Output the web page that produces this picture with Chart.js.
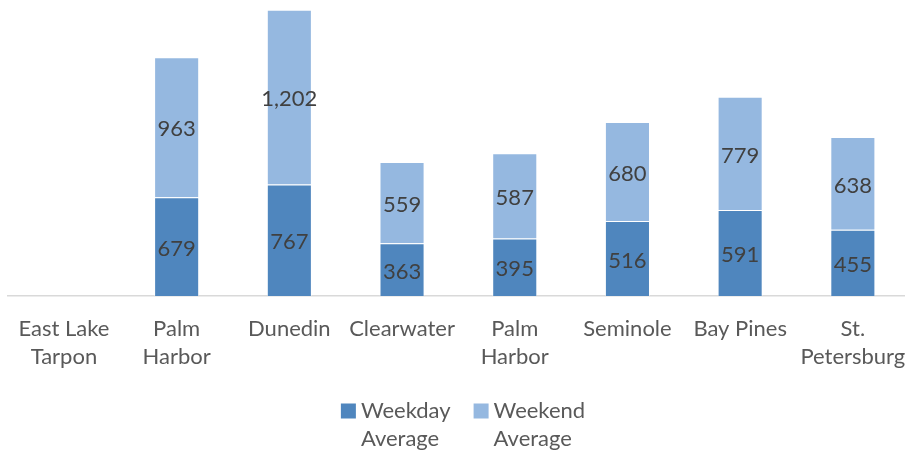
<!DOCTYPE html>
<html>
<head>
<meta charset="utf-8">
<script src="https://cdn.jsdelivr.net/npm/chart.js@4.4.1/dist/chart.umd.min.js"></script>
<style>
  html, body { margin: 0; padding: 0; background: #ffffff; overflow: hidden; }
  #wrap { position: relative; width: 912px; height: 451px; }
</style>
</head>
<body>
<div id="wrap"><canvas id="c"></canvas></div>
<script>
const categories = [
  ["East Lake", "Tarpon"],
  ["Palm", "Harbor"],
  "Dunedin",
  "Clearwater",
  ["Palm", "Harbor"],
  "Seminole",
  "Bay Pines",
  ["St.", "Petersburg"]
];
const weekdayAverage = [null, 679, 767, 363, 395, 516, 591, 455];
const weekendAverage = [null, 963, 1202, 559, 587, 680, 779, 638];
const seriesNames = [["Weekday", "Average"], ["Weekend", "Average"]];

const FONT = "Lato";
const fmt = new Intl.NumberFormat("en-US");

const valueLabels = {
  id: "valueLabels",
  afterDatasetsDraw(chart) {
    const ctx = chart.ctx;
    ctx.save();
    ctx.font = "22px " + FONT;
    ctx.fillStyle = "#404040";
    ctx.textAlign = "center";
    ctx.textBaseline = "middle";
    chart.data.datasets.forEach((ds, di) => {
      const meta = chart.getDatasetMeta(di);
      meta.data.forEach((el, i) => {
        const v = ds.data[i];
        if (v === null || v === undefined) return;
        const p = el.getProps(["x", "y", "base"], true);
        ctx.fillText(fmt.format(v), p.x, (p.y + p.base) / 2 + 2);
      });
    });
    ctx.restore();
  }
};

const bottomLegend = {
  id: "bottomLegend",
  afterDraw(chart) {
    const ctx = chart.ctx;
    ctx.save();
    ctx.font = "22px " + FONT;
    ctx.textBaseline = "middle";
    ctx.textAlign = "left";
    const box = 15, gap = 5, itemGap = 23, lineH = 28;
    const widths = seriesNames.map(lines => Math.max(...lines.map(l => ctx.measureText(l).width)));
    const total = widths.reduce((a, w) => a + box + gap + w, 0) + itemGap * (widths.length - 1);
    let x = 463 - total / 2;
    const y0 = 411;
    chart.data.datasets.forEach((ds, i) => {
      ctx.fillStyle = ds.backgroundColor;
      ctx.fillRect(x, y0 - box / 2, box, box);
      ctx.fillStyle = "#595959";
      seriesNames[i].forEach((line, li) => {
        ctx.fillText(line, x + box + gap, y0 + li * lineH);
      });
      x += box + gap + widths[i] + itemGap;
    });
    ctx.restore();
  }
};

new Chart(document.getElementById("c"), {
  type: "bar",
  data: {
    labels: categories,
    datasets: [
      {
        label: "Weekday Average",
        data: weekdayAverage,
        backgroundColor: "#4f86be",
        borderColor: "rgba(255,255,255,0.45)",
        borderWidth: 1,
        categoryPercentage: 1,
        barPercentage: 0.4
      },
      {
        label: "Weekend Average",
        data: weekendAverage,
        backgroundColor: "#95b8e0",
        borderColor: "rgba(255,255,255,0.45)",
        borderWidth: 1,
        categoryPercentage: 1,
        barPercentage: 0.4
      }
    ]
  },
  options: {
    responsive: true,
    maintainAspectRatio: false,
    animation: false,
    layout: { padding: { left: 7.6, right: 2.8, top: 5.2, bottom: 0 } },
    plugins: {
      legend: { display: false },
      tooltip: { enabled: false },
      title: { display: false }
    },
    scales: {
      x: {
        stacked: true,
        grid: { display: false, drawTicks: false },
        border: { display: true, color: "#d9d9d9", width: 1.5 },
        ticks: {
          autoSkip: false,
          maxRotation: 0,
          minRotation: 0,
          padding: 19,
          color: "#595959",
          font: { family: FONT, size: 22, lineHeight: "28px" }
        },
        afterFit(scale) {
          scale.height = 155;
          scale.paddingLeft = 0;
          scale.paddingRight = 0;
        }
      },
      y: {
        stacked: true,
        display: false,
        min: 0,
        max: 2000
      }
    }
  },
  plugins: [valueLabels, bottomLegend]
});
</script>
</body>
</html>
